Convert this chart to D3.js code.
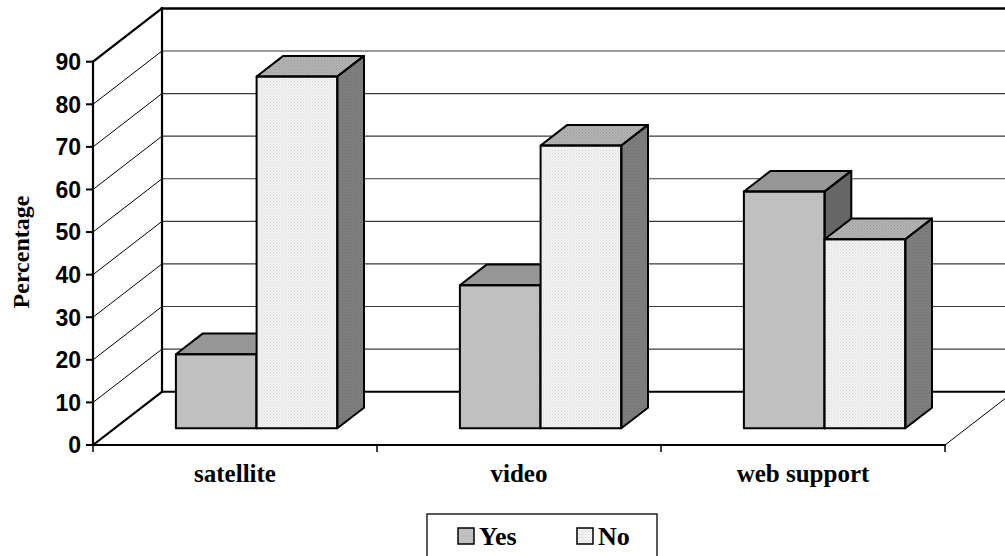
<!DOCTYPE html>
<html>
<head>
<meta charset="utf-8">
<script src="https://cdn.jsdelivr.net/npm/d3@7"></script>
<style>
  html, body { margin: 0; padding: 0; background: #fff; }
  svg { display: block; }
  .tick-label { font-family: Arial, "Liberation Sans", sans-serif; font-weight: bold; font-size: 23px; }
  .cat-label, .axis-title, .legend-label { font-family: "Times New Roman", "Liberation Serif", serif; font-weight: bold; }
  .cat-label { font-size: 25px; }
  .axis-title { font-size: 24px; }
  .legend-label { font-size: 26px; }
</style>
</head>
<body>
<div id="content-holder"></div>
<script>
// chart data
var categories = ["satellite", "video", "web support"];
var seriesNames = ["Yes", "No"];
var yesValues = [17.4, 33.6, 55.6];
var noValues = [82.6, 66.4, 44.4];
var yTicks = [0, 10, 20, 30, 40, 50, 60, 70, 80, 90];

var ready = function(){
  var width = 1005, height = 556;
  var svg = d3.select('#content-holder')
    .append("svg")
    .attr("width", width)
    .attr("height", height);

  // depth offset of the 3d box (floor front -> back wall)
  var DX = 69, DY = 53.3;
  var barT0 = 0.313, barT1 = 0.70;

  var x0 = d3.scaleBand().domain(categories).range([93, 945]).paddingInner(0).paddingOuter(0);
  var x1 = d3.scaleBand().domain(seriesNames).range([0, x0.bandwidth()]).paddingInner(0).paddingOuter(0.76);
  var y = d3.scaleLinear().domain([0, 90]).range([445, 61.7]);

  // project a front-plane point back by depth fraction t
  var pt = function(xf, v, t){
    return [xf + t * DX, y(v) - t * DY];
  };
  var poly = function(points){
    return points.map(function(p){ return p[0].toFixed(1) + "," + p[1].toFixed(1); }).join(" ");
  };

  // dotted patterns for the "No" series
  var defs = svg.append("defs");
  var makeDots = function(id, base, dot){
    var p = defs.append("pattern")
      .attr("id", id)
      .attr("width", 3).attr("height", 3)
      .attr("patternUnits", "userSpaceOnUse");
    p.append("rect").attr("width", 3).attr("height", 3).attr("fill", base);
    p.append("rect").attr("x", 0).attr("y", 0).attr("width", 1).attr("height", 1).attr("fill", dot);
    p.append("rect").attr("x", 1.5).attr("y", 1.5).attr("width", 1).attr("height", 1).attr("fill", dot);
  };
  makeDots("noFront", "#f4f4f4", "#d6d6d6");
  makeDots("noTop", "#b4b4b4", "#9a9a9a");
  makeDots("noSide", "#808080", "#6c6c6c");

  var colors = {
    Yes: {front: "#c0c0c0", top: "#969696", side: "#666666"},
    No: {front: "url(#noFront)", top: "url(#noTop)", side: "url(#noSide)"}
  };

  var xLeft = x0.range()[0], xRight = x0.range()[1];

  // back wall gridlines
  var walls = svg.append("g");
  yTicks.forEach(function(v){
    if (v === 0 || v === 90) return;
    var a = pt(xLeft, v, 1), b = pt(xRight, v, 1);
    walls.append("line")
      .attr("x1", a[0]).attr("y1", a[1]).attr("x2", b[0]).attr("y2", b[1])
      .attr("stroke", "#3a3a3a").attr("stroke-width", 1.2);
    // diagonal on the side wall
    var f = pt(xLeft, v, 0);
    walls.append("line")
      .attr("x1", f[0]).attr("y1", f[1]).attr("x2", a[0]).attr("y2", a[1])
      .attr("stroke", "#000").attr("stroke-width", 1);
  });

  // wall outlines
  var thick = function(p1, p2, w){
    walls.append("line")
      .attr("x1", p1[0]).attr("y1", p1[1]).attr("x2", p2[0]).attr("y2", p2[1])
      .attr("stroke", "#000").attr("stroke-width", w || 2.2).attr("stroke-linecap", "square");
  };
  thick(pt(xLeft, 90, 1), pt(xRight, 90, 1), 2.5);
  thick(pt(xLeft, 0, 1), pt(xRight, 0, 1), 2);
  thick(pt(xLeft, 0, 1), pt(xLeft, 90, 1));
  thick(pt(xLeft, 0, 0), pt(xLeft, 90, 0));
  thick(pt(xLeft, 90, 0), pt(xLeft, 90, 1));
  thick(pt(xLeft, 0, 0), pt(xLeft, 0, 1));
  thick(pt(xLeft, 0, 0), pt(xRight, 0, 0));
  walls.append("line")
    .attr("x1", pt(xRight, 0, 0)[0]).attr("y1", pt(xRight, 0, 0)[1])
    .attr("x2", pt(xRight, 0, 1)[0]).attr("y2", pt(xRight, 0, 1)[1])
    .attr("stroke", "#000").attr("stroke-width", 1);

  // y axis ticks and labels
  var yAxis = svg.append("g");
  yTicks.forEach(function(v){
    yAxis.append("line")
      .attr("x1", xLeft - 7).attr("x2", xLeft).attr("y1", y(v)).attr("y2", y(v))
      .attr("stroke", "#000").attr("stroke-width", 2);
    yAxis.append("text")
      .attr("class", "tick-label")
      .attr("x", xLeft - 12).attr("y", y(v))
      .attr("dy", "0.36em")
      .attr("text-anchor", "end")
      .text(v);
  });

  // category ticks and labels
  var xAxis = svg.append("g");
  var boundaries = categories.map(function(c){ return x0(c); }).concat([xRight]);
  boundaries.forEach(function(bx){
    xAxis.append("line")
      .attr("x1", bx).attr("x2", bx).attr("y1", y(0)).attr("y2", y(0) + 7)
      .attr("stroke", "#000").attr("stroke-width", 1.5);
  });
  categories.forEach(function(c){
    xAxis.append("text")
      .attr("class", "cat-label")
      .attr("x", x0(c) + x0.bandwidth() / 2)
      .attr("y", 482)
      .attr("text-anchor", "middle")
      .text(c);
  });

  svg.append("text")
    .attr("class", "axis-title")
    .attr("transform", "translate(29,252) rotate(-90)")
    .attr("text-anchor", "middle")
    .text("Percentage");

  // bars, drawn left to right so later ones cover earlier side faces
  var bars = svg.append("g");
  categories.forEach(function(c, i){
    var vals = {Yes: yesValues[i], No: noValues[i]};
    seriesNames.forEach(function(s){
      var xa = x0(c) + x1(s), xb = xa + x1.bandwidth();
      var v = vals[s];
      var front = [pt(xa, 0, barT0), pt(xb, 0, barT0), pt(xb, v, barT0), pt(xa, v, barT0)];
      var top = [pt(xa, v, barT0), pt(xb, v, barT0), pt(xb, v, barT1), pt(xa, v, barT1)];
      var side = [pt(xb, 0, barT0), pt(xb, 0, barT1), pt(xb, v, barT1), pt(xb, v, barT0)];
      var g = bars.append("g");
      g.append("polygon").attr("points", poly(side)).attr("fill", colors[s].side);
      g.append("polygon").attr("points", poly(top)).attr("fill", colors[s].top);
      g.append("polygon").attr("points", poly(front)).attr("fill", colors[s].front);
      [side, top, front].forEach(function(face){
        g.append("polygon").attr("points", poly(face))
          .attr("fill", "none").attr("stroke", "#000")
          .attr("stroke-width", 2).attr("stroke-linejoin", "round");
      });
    });
  });

  // legend
  var legend = svg.append("g");
  legend.append("rect")
    .attr("x", 427).attr("y", 514).attr("width", 230).attr("height", 60)
    .attr("fill", "#fff").attr("stroke", "#222").attr("stroke-width", 1.5);
  var legendItems = [
    {name: "Yes", fill: colors.Yes.front, x: 458},
    {name: "No", fill: colors.No.front, x: 577}
  ];
  legendItems.forEach(function(d){
    legend.append("rect")
      .attr("x", d.x).attr("y", 528).attr("width", 16).attr("height", 16)
      .attr("fill", d.fill).attr("stroke", "#000").attr("stroke-width", 1.5);
    legend.append("text")
      .attr("class", "legend-label")
      .attr("x", d.x + 21).attr("y", 545)
      .text(d.name);
  });
};
ready();
</script>
</body>
</html>
